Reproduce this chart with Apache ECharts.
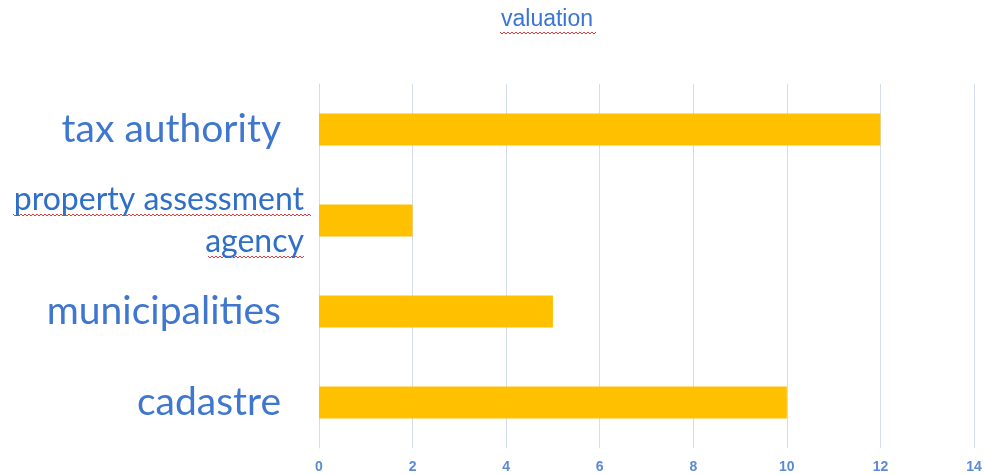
<!DOCTYPE html>
<html><head><meta charset="utf-8">
<script src="https://cdn.jsdelivr.net/npm/echarts@6/dist/echarts.min.js"></script>
<style>html,body{margin:0;padding:0;background:#fff}#c{width:985px;height:475px}</style>
</head><body><div id="c"></div>
<script>
const categories = ['cadastre', 'municipalities', 'property assessment\nagency', 'tax authority'];
const values = [10, 5, 2, 12];
const xTicks = [0, 2, 4, 6, 8, 10, 12, 14];
const titleText = 'valuation';

const chart = echarts.init(document.getElementById('c'), null, {renderer: 'canvas'});
function zig(x0, x1, y) {
  const pts = [];
  let up = true;
  for (let x = x0; x <= x1; x += 2) { pts.push([x, y + (up ? 0 : 2)]); up = !up; }
  return {type: 'polyline', shape: {points: pts}, style: {stroke: '#e8383a', lineWidth: 1, fill: null}, silent: true};
}
chart.setOption({
  backgroundColor: '#fff',
  animation: false,
  title: {
    text: titleText, left: 496, top: 3,
    textStyle: {fontFamily: 'Liberation Sans', fontSize: 23, fontWeight: 'normal', color: '#3a74d4'}
  },
  grid: {left: 319, right: 11, top: 84, bottom: 27, containLabel: false},
  xAxis: {
    type: 'value', min: 0, max: 14, interval: 2,
    axisLine: {show: false},
    axisTick: {show: false},
    splitLine: {lineStyle: {color: '#d2def0', width: 1}},
    axisLabel: {
      margin: 12, color: '#5b8ad6', fontSize: 14, fontFamily: 'Liberation Sans', fontWeight: 'bold',
      formatter: v => xTicks.includes(v) ? String(v) : ''
    }
  },
  yAxis: {
    type: 'category', data: categories,
    axisLine: {show: true, lineStyle: {color: '#d2def0'}},
    axisTick: {show: false},
    axisLabel: {
      margin: 15, align: 'right',
      formatter: v => v.indexOf('\n') >= 0 ? v.split('\n').map(s => '{s|' + s + '}').join('\n') : '{b|' + v + '}',
      rich: {
        b: {fontFamily: 'Lato', fontSize: 39, color: '#3f77d0', padding: [0, 23, 0, 0]},
        s: {fontFamily: 'Lato', fontSize: 32, color: '#2f6fc8', lineHeight: 42}
      }
    }
  },
  series: [{
    type: 'bar', data: values, barWidth: 32,
    itemStyle: {color: '#ffc000'}
  }],
  graphic: [zig(500, 596, 32), zig(13, 312, 214), zig(208, 305, 256)]
});
</script></body></html>
